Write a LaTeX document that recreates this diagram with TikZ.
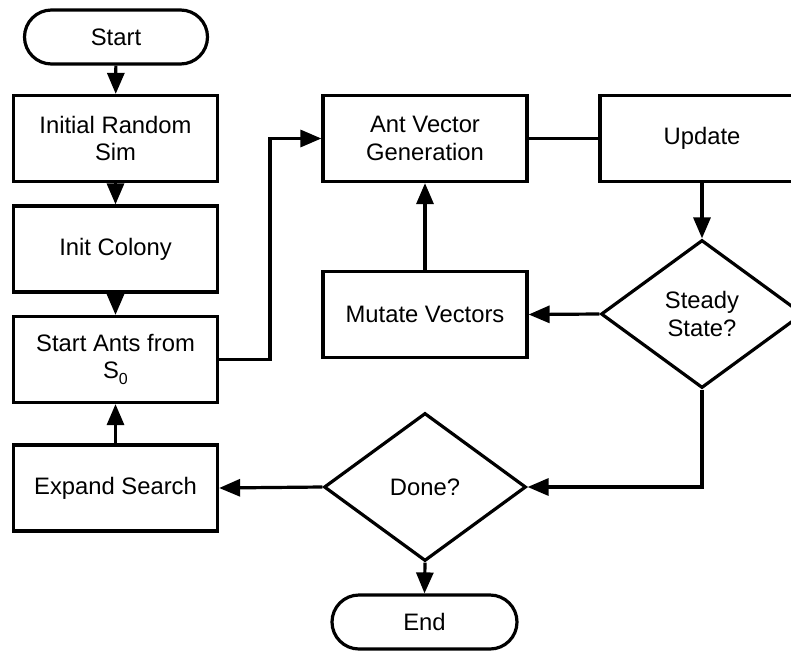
\documentclass[tikz,border=0pt]{standalone}
\usepackage{fontspec}
\setmainfont{Liberation Sans}
\usetikzlibrary{arrows.meta,shapes.geometric}

\begin{document}
\begin{tikzpicture}[x=1pt,y=-1pt,
  every node/.style={font=\fontsize{23.8}{27.5}\selectfont, align=center, inner sep=0pt},
  proc/.style={draw, line width=3.2pt, rectangle, minimum width=204pt, minimum height=86pt},
  term/.style={draw, line width=3.2pt, rectangle, rounded corners=27pt, minimum height=54pt},
  decide/.style={draw, line width=3.2pt, diamond, minimum width=202pt, minimum height=148pt},
  flow/.style={line width=3.2pt, -{Triangle[length=21pt,width=17pt]}},
  link/.style={line width=3.2pt}]

\useasboundingbox (0,0) rectangle (791,650);
\clip (0,0) rectangle (791,650);

% left column
\node[term, minimum width=183pt] (start) at (116,37) {Start};
\node[proc] (init) at (115.5,138.5) {Initial Random\\Sim};
\node[proc] (colony) at (115.5,249) {Init Colony};
\node[proc] (ants) at (115.5,359.5) {Start Ants from\\S\raisebox{-6pt}{\fontsize{16}{16}\selectfont 0}};
\node[proc] (expand) at (115.5,488) {Expand Search};

% right part
\node[proc] (antvec) at (425,138.5) {Ant Vector\\Generation};
\node[proc] (update) at (702,138.5) {Update};
\node[proc] (mutate) at (425,314.5) {Mutate Vectors};
\node[decide] (steady) at (702,314) {Steady\\State?};
\node[decide] (done) at (425,487) {Done?};
\node[term, minimum width=185pt] (end) at (424.5,622) {End};

\coordinate (jog) at (270,359.5);
\coordinate (jogtop) at (270,138.5);
\coordinate (corner) at (702,487);

% connectors
\draw[flow] (start) -- (init);
\draw[flow] (init) -- (colony);
\draw[flow] (colony) -- (ants);
\draw[flow] (expand) -- (ants);
\draw[flow] (ants.east) -- (jog) -- (jogtop) -- (antvec.west);
\draw[link] (antvec.east) -- (update.west);
\draw[flow] (update.south) -- (steady.north);
\draw[flow] (steady.west) -- (mutate.east);
\draw[flow] (mutate.north) -- (antvec.south);
\draw[flow] (steady.south) -- (corner) -- (done.east);
\draw[flow] (done.west) -- (expand.east);
\draw[flow] (done.south) -- (end.north);
\end{tikzpicture}
\end{document}
